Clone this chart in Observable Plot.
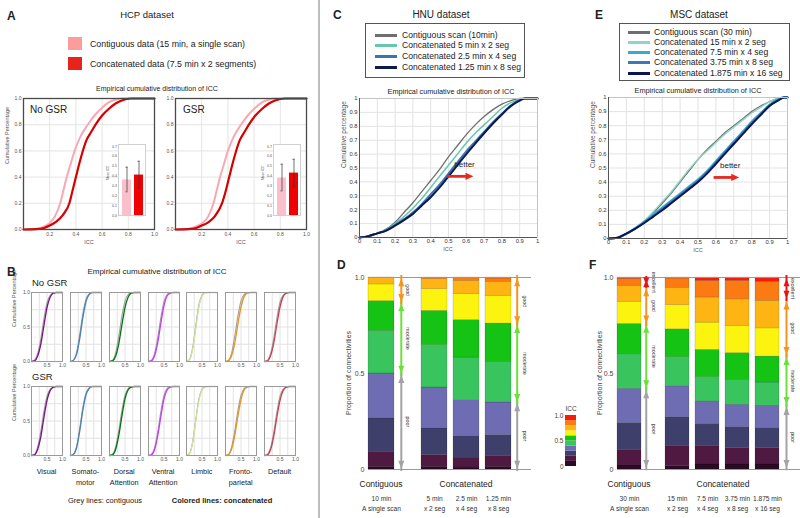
<!DOCTYPE html>
<html><head><meta charset="utf-8">
<script src="https://cdn.jsdelivr.net/npm/d3@7"></script>
<script src="https://cdn.jsdelivr.net/npm/@observablehq/plot@0.6"></script>
<style>
html,body{margin:0;padding:0;background:#fff;}
#fig{position:relative;width:800px;height:518px;overflow:hidden;background:#fff;font-family:"Liberation Sans",Arial,Helvetica,sans-serif;color:#222;}
#fig .t{position:absolute;white-space:nowrap;line-height:1;}
#fig svg{position:absolute;overflow:visible;}
</style></head><body><div id="fig"></div>
<script>
// ======================= DATA =======================
// ---- Panel A : HCP ----
const hcpLegend = ["Contiguous data (15 min, a single scan)", "Concatenated data (7.5 min x 2 segments)"];
const hcpLegendColors = ["#fb9d9b", "#e8231c"];
const hcpCurveColors = ["#f6a9b4", "#d60000"];
const hcpBarColors = ["#f9c0cc", "#f00000"];
const hcpXTicks = [0.2, 0.4, 0.6, 0.8, 1.0];
const hcpYTicks = [0, 0.2, 0.4, 0.6, 0.8, 1.0];
const hcpInsetTicks = [0, 0.1, 0.2, 0.3, 0.4, 0.5, 0.6, 0.7];
const hcpNoGsrContiguous = [[0,0],[0.1,0.005],[0.15,0.02],[0.2,0.05],[0.24,0.1],[0.28,0.2],[0.305,0.3],[0.33,0.4],[0.36,0.5],[0.39,0.6],[0.43,0.7],[0.49,0.8],[0.55,0.88],[0.6,0.93],[0.65,0.97],[0.7,0.99],[0.75,1],[1,1]];
const hcpNoGsrConcatenated = [[0,0],[0.1,0.003],[0.15,0.01],[0.2,0.03],[0.25,0.06],[0.3,0.11],[0.35,0.2],[0.375,0.3],[0.4,0.4],[0.425,0.5],[0.45,0.59],[0.48,0.68],[0.52,0.75],[0.55,0.8],[0.6,0.87],[0.65,0.92],[0.7,0.96],[0.75,0.985],[0.82,1],[1,1]];
const hcpGsrContiguous = [[0,0],[0.1,0.005],[0.15,0.02],[0.2,0.045],[0.25,0.1],[0.29,0.2],[0.315,0.3],[0.34,0.4],[0.37,0.5],[0.4,0.6],[0.44,0.7],[0.5,0.8],[0.56,0.88],[0.61,0.93],[0.66,0.97],[0.71,0.99],[0.77,1],[1,1]];
const hcpGsrConcatenated = [[0,0],[0.1,0.003],[0.15,0.01],[0.2,0.03],[0.25,0.055],[0.3,0.1],[0.355,0.2],[0.385,0.3],[0.41,0.4],[0.435,0.5],[0.46,0.59],[0.49,0.68],[0.53,0.75],[0.56,0.8],[0.61,0.87],[0.66,0.92],[0.71,0.96],[0.76,0.985],[0.84,1],[1,1]];
const hcpNoGsrMean = [0.36, 0.41], hcpNoGsrLow = [0.24, 0.28], hcpNoGsrHigh = [0.49, 0.55];
const hcpGsrMean = [0.38, 0.43], hcpGsrLow = [0.25, 0.29], hcpGsrHigh = [0.52, 0.57];

// ---- Panel B : networks ----
const networks = ["Visual", "Somato-\nmotor", "Dorsal\nAttention", "Ventral\nAttention", "Limbic", "Fronto-\nparietal", "Default"];
const netColors = ["#781286", "#4682b4", "#00760e", "#c43afa", "#cfe49a", "#e69422", "#cd3e4e"];
const netIccGrid = [0, 0.1, 0.2, 0.3, 0.4, 0.5, 0.6, 0.7, 0.8, 0.9, 1.0];
const netXTicks = [0.5, 1.0];
const netYTicks = [0, 0.5, 1.0];
const netGridTicks = [0.25, 0.5, 0.75];
const netGreyNoGsr = [
  [0,0.02,0.12,0.33,0.62,0.85,0.96,0.99,1,1,1],
  [0,0.02,0.14,0.40,0.70,0.90,0.98,1,1,1,1],
  [0,0.02,0.13,0.37,0.66,0.88,0.97,1,1,1,1],
  [0,0.02,0.12,0.35,0.64,0.87,0.97,1,1,1,1],
  [0,0.03,0.20,0.52,0.82,0.96,1,1,1,1,1],
  [0,0.02,0.13,0.37,0.66,0.88,0.97,1,1,1,1],
  [0,0.02,0.12,0.34,0.63,0.86,0.96,0.99,1,1,1]];
const netColNoGsr = [
  [0,0.01,0.08,0.25,0.52,0.78,0.93,0.99,1,1,1],
  [0,0.02,0.11,0.34,0.64,0.87,0.97,1,1,1,1],
  [0,0.01,0.08,0.26,0.53,0.78,0.93,0.99,1,1,1],
  [0,0.01,0.09,0.28,0.56,0.81,0.95,0.99,1,1,1],
  [0,0.03,0.18,0.48,0.79,0.95,0.99,1,1,1,1],
  [0,0.01,0.09,0.27,0.54,0.79,0.94,0.99,1,1,1],
  [0,0.01,0.09,0.27,0.54,0.79,0.94,0.99,1,1,1]];
const netGreyGsr = [
  [0,0.02,0.13,0.35,0.64,0.86,0.96,0.99,1,1,1],
  [0,0.02,0.14,0.40,0.70,0.90,0.98,1,1,1,1],
  [0,0.02,0.13,0.36,0.65,0.87,0.97,1,1,1,1],
  [0,0.02,0.12,0.35,0.64,0.87,0.97,1,1,1,1],
  [0,0.03,0.20,0.52,0.82,0.96,1,1,1,1,1],
  [0,0.02,0.13,0.36,0.65,0.87,0.97,1,1,1,1],
  [0,0.02,0.12,0.34,0.63,0.86,0.96,0.99,1,1,1]];
const netColGsr = [
  [0,0.01,0.09,0.27,0.55,0.80,0.94,0.99,1,1,1],
  [0,0.02,0.12,0.36,0.66,0.88,0.97,1,1,1,1],
  [0,0.01,0.09,0.29,0.57,0.82,0.95,0.99,1,1,1],
  [0,0.01,0.09,0.29,0.57,0.82,0.95,0.99,1,1,1],
  [0,0.03,0.19,0.50,0.80,0.95,0.99,1,1,1,1],
  [0,0.01,0.10,0.29,0.57,0.81,0.95,0.99,1,1,1],
  [0,0.01,0.09,0.28,0.56,0.80,0.94,0.99,1,1,1]];

// ---- Panel C : HNU ----
const hnuSeries = ["Contiguous scan (10min)", "Concatenated 5 min x 2 seg", "Concatenated 2.5 min x 4 seg", "Concatenated 1.25 min x 8 seg"];
const hnuColors = ["#6e6e6e", "#66c7ad", "#3a74b4", "#0c1a4c"];
const hnuWidths = [1.3, 1.5, 2, 2];
const cdfTicks = [0, 0.1, 0.2, 0.3, 0.4, 0.5, 0.6, 0.7, 0.8, 0.9, 1];
const hnuContiguous = [[0,0],[0.05,0.01],[0.1,0.03],[0.15,0.06],[0.2,0.11],[0.25,0.18],[0.3,0.25],[0.35,0.33],[0.4,0.41],[0.45,0.49],[0.5,0.58],[0.55,0.66],[0.6,0.74],[0.65,0.81],[0.7,0.87],[0.75,0.92],[0.8,0.96],[0.85,0.985],[0.9,1],[1,1]];
const hnuConcat5x2 = [[0,0],[0.05,0.01],[0.1,0.03],[0.15,0.055],[0.2,0.1],[0.25,0.15],[0.3,0.21],[0.35,0.28],[0.4,0.36],[0.45,0.44],[0.5,0.52],[0.55,0.6],[0.6,0.68],[0.65,0.75],[0.7,0.81],[0.75,0.87],[0.8,0.93],[0.85,0.97],[0.9,0.995],[0.95,1],[1,1]];
const hnuConcat25x4 = [[0,0],[0.05,0.01],[0.1,0.03],[0.15,0.05],[0.2,0.09],[0.25,0.13],[0.3,0.18],[0.35,0.24],[0.4,0.31],[0.45,0.38],[0.5,0.46],[0.55,0.54],[0.6,0.62],[0.65,0.69],[0.7,0.76],[0.75,0.83],[0.8,0.89],[0.85,0.95],[0.9,0.99],[0.93,1],[1,1]];
const hnuConcat125x8 = [[0,0],[0.05,0.01],[0.1,0.03],[0.15,0.05],[0.2,0.085],[0.25,0.125],[0.3,0.17],[0.35,0.23],[0.4,0.29],[0.45,0.36],[0.5,0.44],[0.55,0.52],[0.6,0.6],[0.65,0.675],[0.7,0.75],[0.75,0.82],[0.8,0.885],[0.85,0.945],[0.9,0.985],[0.93,1],[1,1]];
const hnuBetter = [{label: "better", tx: 0.59, ty: 0.525, ax1: 0.494, ax2: 0.64, ay: 0.44}];

// ---- Panel D : HNU proportions (ICC bins 0-0.1 ... 0.9-1.0) ----
const iccBinEdges = [0, 0.1, 0.2, 0.3, 0.4, 0.5, 0.6, 0.7, 0.8, 0.9, 1.0];
const iccColors = ["#2b0b24", "#4f1942", "#3e3f6b", "#6e6cb2", "#39c45d", "#14c314", "#fcf30e", "#feb514", "#fc7a12", "#f41c0e"];
const iccTicks = [0, 0.5, 1];
const hnuBars = ["10 min\nA single scan", "5 min\nx 2 seg", "2.5 min\nx 4 seg", "1.25 min\nx 8 seg"];
const hnuProps = [
  [0.014, 0.078, 0.174, 0.234, 0.222, 0.155, 0.087, 0.033, 0.003, 0.000],
  [0.014, 0.061, 0.139, 0.213, 0.221, 0.178, 0.113, 0.052, 0.009, 0.000],
  [0.010, 0.047, 0.117, 0.187, 0.222, 0.195, 0.135, 0.070, 0.014, 0.003],
  [0.014, 0.055, 0.110, 0.170, 0.212, 0.199, 0.145, 0.072, 0.018, 0.005]];
const reliabilityLevels = ["poor", "moderate", "good", "excellent"];
const levelColors = ["#a3a3a3", "#6ddf3b", "#f7941d", "#e8141b"];
const hnuContigRanges = [[0.005, 0.491], [0.5, 0.865], [0.873, 0.995]];
const hnuConcatRanges = [[0.005, 0.344], [0.352, 0.752], [0.757, 0.995]];

// ---- Panel E : MSC ----
const mscSeries = ["Contiguous scan (30 min)", "Concatenated 15 min x 2 seg", "Concatenated 7.5 min x 4 seg", "Concatenated 3.75 min x 8 seg", "Concatenated 1.875 min x 16 seg"];
const mscColors = ["#6e6e6e", "#8fd5c6", "#3aaccb", "#3a78b6", "#0b1650"];
const mscWidths = [1.3, 1.4, 1.8, 2, 2];
const mscContiguous = [[0,0],[0.05,0.005],[0.1,0.03],[0.15,0.07],[0.2,0.12],[0.25,0.18],[0.3,0.25],[0.35,0.32],[0.4,0.4],[0.45,0.48],[0.5,0.56],[0.55,0.63],[0.6,0.69],[0.65,0.75],[0.7,0.8],[0.75,0.85],[0.8,0.9],[0.85,0.94],[0.9,0.97],[0.95,0.995],[0.97,1],[1,1]];
const mscConcat15x2 = [[0,0],[0.05,0.005],[0.1,0.035],[0.15,0.075],[0.2,0.125],[0.25,0.19],[0.3,0.26],[0.35,0.33],[0.4,0.41],[0.45,0.49],[0.5,0.56],[0.55,0.62],[0.6,0.68],[0.65,0.74],[0.7,0.79],[0.75,0.84],[0.8,0.89],[0.85,0.93],[0.9,0.97],[0.95,0.995],[0.97,1],[1,1]];
const mscConcat75x4 = [[0,0],[0.05,0.005],[0.1,0.035],[0.15,0.075],[0.2,0.12],[0.25,0.17],[0.3,0.22],[0.35,0.27],[0.4,0.32],[0.45,0.37],[0.5,0.42],[0.55,0.48],[0.6,0.55],[0.65,0.62],[0.7,0.69],[0.75,0.76],[0.8,0.83],[0.85,0.89],[0.9,0.95],[0.95,0.99],[0.98,1],[1,1]];
const mscConcat375x8 = [[0,0],[0.05,0.005],[0.1,0.035],[0.15,0.07],[0.2,0.115],[0.25,0.16],[0.3,0.21],[0.35,0.26],[0.4,0.31],[0.45,0.36],[0.5,0.41],[0.55,0.47],[0.6,0.54],[0.65,0.61],[0.7,0.68],[0.75,0.75],[0.8,0.82],[0.85,0.885],[0.9,0.945],[0.95,0.985],[0.98,1],[1,1]];
const mscConcat1875x16 = [[0,0],[0.05,0.005],[0.1,0.035],[0.15,0.07],[0.2,0.11],[0.25,0.155],[0.3,0.2],[0.35,0.25],[0.4,0.3],[0.45,0.35],[0.5,0.4],[0.55,0.46],[0.6,0.53],[0.65,0.6],[0.7,0.67],[0.75,0.74],[0.8,0.81],[0.85,0.875],[0.9,0.94],[0.95,0.98],[0.98,1],[1,1]];
const mscBetter = [{label: "better", tx: 0.68, ty: 0.52, ax1: 0.59, ax2: 0.73, ay: 0.433}];

// ---- Panel F : MSC proportions ----
const mscBars = ["30 min\nA single scan", "15 min\nx 2 seg", "7.5 min\nx 4 seg", "3.75 min\nx 8 seg", "1.875 min\nx 16 seg"];
const mscProps = [
  [0.021, 0.079, 0.142, 0.178, 0.180, 0.158, 0.116, 0.083, 0.036, 0.007],
  [0.017, 0.104, 0.151, 0.161, 0.152, 0.145, 0.126, 0.090, 0.049, 0.005],
  [0.026, 0.095, 0.113, 0.121, 0.126, 0.142, 0.142, 0.131, 0.087, 0.017],
  [0.026, 0.086, 0.108, 0.117, 0.130, 0.139, 0.141, 0.139, 0.097, 0.017],
  [0.026, 0.086, 0.104, 0.116, 0.121, 0.135, 0.147, 0.144, 0.099, 0.022]];
const mscContigRanges = [[0.009, 0.412], [0.424, 0.753], [0.761, 0.943], [0.96, 0.99]];
const mscConcatRanges = [[0.009, 0.325], [0.337, 0.585], [0.597, 0.874], [0.891, 0.995]];

// ======================= HELPERS =======================
const fig = document.getElementById("fig");
const FONT = "'Liberation Sans', Arial, Helvetica, sans-serif";
const sty = (size, color) => `font-family:${FONT};font-size:${size}px;color:${color || "#444"};background:transparent;overflow:visible;`;
function txt(x, y, s, o = {}) {
  const d = document.createElement("div");
  d.className = "t";
  d.textContent = s;
  d.style.left = x + "px"; d.style.top = y + "px";
  d.style.fontSize = (o.size || 8) + "px";
  d.style.fontWeight = o.bold ? "bold" : "normal";
  d.style.color = o.color || "#222";
  if (o.lh) { d.style.lineHeight = o.lh + "px"; d.style.whiteSpace = "pre"; d.style.textAlign = "center"; }
  const tx = o.anchor === "start" ? "0" : o.anchor === "end" ? "-100%" : "-50%";
  const ty = o.valign === "top" ? "0" : "-50%";
  d.style.transform = `translate(${tx},${ty})` + (o.rotate ? ` rotate(${o.rotate}deg)` : "");
  fig.appendChild(d);
}
function box(x, y, w, h, css) {
  const d = document.createElement("div");
  d.style.cssText = `position:absolute;left:${x}px;top:${y}px;width:${w}px;height:${h}px;box-sizing:border-box;` + css;
  fig.appendChild(d);
}
function place(svg, left, top) { svg.style.left = left + "px"; svg.style.top = top + "px"; fig.appendChild(svg); }
const fmt1 = d => d.toFixed(1);
// arrow-head symbols with the tip at the data point
const headUp = {draw(ctx, size) { const r = Math.sqrt(size / Math.PI); ctx.moveTo(0, 0); ctx.lineTo(-r, 2.6 * r); ctx.lineTo(r, 2.6 * r); ctx.closePath(); }};
const headDown = {draw(ctx, size) { const r = Math.sqrt(size / Math.PI); ctx.moveTo(0, 0); ctx.lineTo(-r, -2.6 * r); ctx.lineTo(r, -2.6 * r); ctx.closePath(); }};
const headRight = {draw(ctx, size) { const r = Math.sqrt(size / Math.PI); ctx.moveTo(0, 0); ctx.lineTo(-2.2 * r, -r); ctx.lineTo(-2.2 * r, r); ctx.closePath(); }};

// ======================= PANEL A =======================
function hcpMain(contig, concat, yLabel) {
  const mL = 20, mR = 3, mT = 5, mB = 16, W = 131, H = 131;
  return Plot.plot({
    width: mL + W + mR, height: mT + H + mB, marginLeft: mL, marginRight: mR, marginTop: mT, marginBottom: mB,
    style: sty(5, "#555"),
    x: {domain: [0, 1], ticks: hcpXTicks, tickFormat: fmt1, tickSize: 0, tickPadding: 3, label: null},
    y: {domain: [0, 1], ticks: hcpYTicks, tickFormat: fmt1, tickSize: 0, tickPadding: 2, label: null},
    marks: [
      Plot.ruleX(hcpXTicks, {stroke: "#e4e4e4"}),
      Plot.ruleY(hcpYTicks, {stroke: "#e4e4e4"}),
      Plot.line(contig, {x: d => d[0], y: d => d[1], stroke: hcpCurveColors[0], strokeWidth: 2, curve: "monotone-x"}),
      Plot.line(concat, {x: d => d[0], y: d => d[1], stroke: hcpCurveColors[1], strokeWidth: 2.2, curve: "monotone-x"}),
      Plot.frame({stroke: "#4a4a4a", strokeWidth: 1.3}),
      yLabel ? Plot.text([yLabel], {text: d => d, frameAnchor: "left", rotate: -90, dx: -16, fontSize: 5.5, fill: "#555"}) : null
    ].filter(Boolean)
  });
}
function hcpInset(mean, lo, hi) {
  const mL = 13, W = 27, mT = 2, mB = 2, H = 71;
  const rows = hcpLegend.map((g, i) => ({g, mean: mean[i], lo: lo[i], hi: hi[i], c: hcpBarColors[i]}));
  return Plot.plot({
    width: mL + W + 1, height: mT + H + mB, marginLeft: mL, marginRight: 1, marginTop: mT, marginBottom: mB,
    style: sty(3.6, "#555"),
    x: {type: "band", domain: hcpLegend, range: [mL + 3, mL + 26], paddingInner: 0.23, paddingOuter: 0, axis: null},
    y: {domain: [0, 0.72], ticks: hcpInsetTicks, tickFormat: fmt1, tickSize: 0, tickPadding: 1.5, label: null},
    marks: [
      Plot.frame({fill: "white", stroke: "#d0d0d0"}),
      Plot.barY(rows, {x: "g", y: "mean", fill: "c"}),
      Plot.ruleX(rows, {x: "g", y1: "lo", y2: "hi", stroke: "#333", strokeWidth: 0.7}),
      Plot.tickY(rows, {x: "g", y: "lo", stroke: "#333", strokeWidth: 0.7, insetLeft: 3.5, insetRight: 3.5}),
      Plot.tickY(rows, {x: "g", y: "hi", stroke: "#333", strokeWidth: 0.7, insetLeft: 3.5, insetRight: 3.5}),
      Plot.text(["Mean ICC"], {text: d => d, frameAnchor: "left", rotate: -90, dx: -10.5, fontSize: 3.2, fill: "#555"})
    ]
  });
}
place(hcpMain(hcpNoGsrContiguous, hcpNoGsrConcatenated, "Cumulative Percentage"), 3, 93);
place(hcpMain(hcpGsrContiguous, hcpGsrConcatenated, null), 155, 93);
place(hcpInset(hcpNoGsrMean, hcpNoGsrLow, hcpNoGsrHigh), 105, 142);
place(hcpInset(hcpGsrMean, hcpGsrLow, hcpGsrHigh), 260, 142);

txt(7, 16, "A", {anchor: "start", bold: true, size: 12});
txt(147, 15, "HCP dataset", {size: 9.5});
hcpLegend.forEach((s, i) => {
  box(68, 37 + i * 20, 14, 13, `background:${hcpLegendColors[i]};`);
  txt(90, 44 + i * 20, s, {anchor: "start", size: 8.8});
});
txt(157, 88, "Empirical cumulative distribution of ICC", {size: 7});
txt(30, 110, "No GSR", {anchor: "start", size: 10});
txt(183, 110, "GSR", {anchor: "start", size: 10});
txt(89, 243, "ICC", {size: 5.5, color: "#555"});
txt(241, 243, "ICC", {size: 5.5, color: "#555"});

// ======================= PANEL B =======================
function netPlot(grey, col, color, showY) {
  const mL = 24, mR = 6, mT = 2, mB = 10, W = 31, H = 69;
  return Plot.plot({
    width: mL + W + mR, height: mT + H + mB, marginLeft: mL, marginRight: mR, marginTop: mT, marginBottom: mB,
    style: sty(5, "#555"),
    x: {domain: [0, 1], ticks: netXTicks, tickFormat: fmt1, tickSize: 0, tickPadding: 1.5, label: null},
    y: showY ? {domain: [0, 1], ticks: netYTicks, tickFormat: fmt1, tickSize: 0, tickPadding: 1.5, label: null} : {domain: [0, 1], axis: null},
    marks: [
      Plot.ruleX(netGridTicks, {stroke: "#e2e2e2"}),
      Plot.ruleY(netGridTicks, {stroke: "#e2e2e2"}),
      Plot.line(netIccGrid, {x: d => d, y: (d, i) => grey[i], stroke: "#a0a0a0", strokeWidth: 1.1, curve: "monotone-x"}),
      Plot.line(netIccGrid, {x: d => d, y: (d, i) => col[i], stroke: color, strokeWidth: 1.3, curve: "monotone-x"}),
      Plot.frame({stroke: "#9a9a9a"}),
      showY ? Plot.text(["Cumulative Percentage"], {text: d => d, frameAnchor: "left", rotate: -90, dx: -17, fontSize: 5.5, fill: "#555"}) : null
    ].filter(Boolean)
  });
}
const colStep = 38.85, col0 = 31, rowTops = [292, 386];
networks.forEach((name, i) => {
  place(netPlot(netGreyNoGsr[i], netColNoGsr[i], netColors[i], i === 0), col0 + i * colStep - 24, rowTops[0] - 2);
  place(netPlot(netGreyGsr[i], netColGsr[i], netColors[i], i === 0), col0 + i * colStep - 24, rowTops[1] - 2);
  txt(col0 + i * colStep + 15.5, 466, name, {valign: "top", size: 7.3, lh: 11});
});
txt(7, 272, "B", {anchor: "start", bold: true, size: 12});
txt(157, 272, "Empirical cumulative distribution of ICC", {size: 8});
txt(32, 283, "No GSR", {anchor: "start", size: 9.5});
txt(32, 377, "GSR", {anchor: "start", size: 9.5});
txt(105, 501, "Grey lines: contiguous", {size: 7.5});
txt(222, 501, "Colored lines: concatenated", {size: 7.5, bold: true});

// ======================= PANELS C & E =======================
function cdfPlot(series, colors, widths, better, W, H, yLabel) {
  const mL = 22, mR = 8, mT = 6, mB = 16;
  return Plot.plot({
    width: mL + W + mR, height: mT + H + mB, marginLeft: mL, marginRight: mR, marginTop: mT, marginBottom: mB,
    style: sty(5.8, "#333"),
    x: {domain: [0, 1], ticks: cdfTicks, tickFormat: d => String(d), tickSize: 0, tickPadding: 1.5, label: null},
    y: {domain: [0, 1], ticks: cdfTicks, tickFormat: d => String(d), tickSize: 0, tickPadding: 2, label: null},
    marks: [
      Plot.ruleX(cdfTicks, {stroke: "#e3e3e3"}),
      Plot.ruleY(cdfTicks, {stroke: "#e3e3e3"}),
      ...series.map((s, i) => Plot.line(s, {x: d => d[0], y: d => d[1], stroke: colors[i], strokeWidth: widths[i], curve: "monotone-x"})),
      Plot.frame({stroke: "#c4c4c4"}),
      Plot.ruleX([0], {stroke: "#555"}),
      Plot.ruleY([0], {stroke: "#555"}),
      Plot.ruleY(better, {y: "ay", x1: "ax1", x2: "ax2", stroke: "#e8281e", strokeWidth: 2.8, insetRight: 6}),
      Plot.dot(better, {x: "ax2", y: "ay", symbol: headRight, r: 3.6, fill: "#e8281e", stroke: null}),
      Plot.text(better, {x: "tx", y: "ty", text: "label", fontSize: 8, fill: "#222"}),
      Plot.text([yLabel], {text: d => d, frameAnchor: "left", rotate: -90, dx: -16, fontSize: 6.5, fill: "#555"})
    ]
  });
}
place(cdfPlot([hnuContiguous, hnuConcat5x2, hnuConcat25x4, hnuConcat125x8], hnuColors, hnuWidths, hnuBetter, 178, 139, "Cumulative percentage"), 337, 92);
place(cdfPlot([mscContiguous, mscConcat15x2, mscConcat75x4, mscConcat375x8, mscConcat1875x16], mscColors, mscWidths, mscBetter, 179, 141, "Cumulative percentage"), 586, 91);

function legendBox(x, y, w, h, names, colors, rowY, lineX, textX) {
  box(x, y, w, h, "border:1px solid #555;background:#fff;");
  names.forEach((s, i) => {
    box(lineX, rowY[i] - 1.5, 22, 3, `background:${colors[i]};`);
    txt(textX, rowY[i], s, {anchor: "start", size: 8.6});
  });
}
txt(333, 15, "C", {anchor: "start", bold: true, size: 12});
txt(441, 15, "HNU dataset", {size: 10});
legendBox(365, 23, 160, 55, hnuSeries, hnuColors, [35, 45, 56, 67], 375, 402);
txt(451, 92, "Empirical cumulative distribution of ICC", {size: 7.3});
txt(448, 250, "ICC", {size: 5.5, color: "#555"});

txt(595, 15, "E", {anchor: "start", bold: true, size: 12});
txt(699, 15, "MSC dataset", {size: 10});
legendBox(619, 23, 171, 58, mscSeries, mscColors, [32, 42, 52, 62, 73], 628, 654);
txt(698, 91, "Empirical cumulative distribution of ICC", {size: 7.3});
txt(698, 251, "ICC", {size: 5.5, color: "#555"});

// ======================= PANELS D & F =======================
function reliabilityPlot(o) {
  const mL = o.frameLeft - o.svgLeft, W = o.frameRight - o.frameLeft, mT = 8, H = 192, mB = 45;
  const rows = [];
  o.cats.forEach((c, i) => o.props[i].forEach((v, b) => rows.push({cat: c, bin: b, v})));
  const n = o.cats.length;
  const p = n === 1 ? 0 : 1 - o.bw / o.step;
  const r0 = o.bandStart - o.svgLeft;
  const r1 = n === 1 ? r0 + o.bw : r0 + o.step * (n - p);
  const arr = o.ranges.map((r, i) => ({level: reliabilityLevels[i], lo: r[0], hi: r[1], color: levelColors[i], cat: o.arrowCat}));
  return Plot.plot({
    width: mL + W, height: mT + H + mB, marginLeft: mL, marginRight: 0, marginTop: mT, marginBottom: mB,
    style: sty(7, "#444"),
    x: {type: "band", domain: o.cats, range: [r0, r1], paddingInner: p, paddingOuter: 0, align: 0, axis: null},
    y: o.showY ? {domain: [0, 1], ticks: iccTicks, tickFormat: d => d === 0 ? "0" : d.toFixed(1), tickSize: 0, tickPadding: 4, label: null} : {domain: [0, 1], axis: null},
    marks: [
      Plot.barY(rows, {x: "cat", y: "v", fill: d => iccColors[d.bin], stroke: "#000", strokeOpacity: 0.25, strokeWidth: 0.5}),
      Plot.ruleY([0, 1], {stroke: "#999", strokeWidth: 1}),
      Plot.ruleX(arr, {x: "cat", y1: "lo", y2: "hi", stroke: "color", strokeWidth: 2, dx: o.arrowDx, insetTop: 3, insetBottom: 3}),
      Plot.dot(arr, {x: "cat", y: "hi", symbol: headUp, r: 3, fill: "color", stroke: null, dx: o.arrowDx}),
      Plot.dot(arr, {x: "cat", y: "lo", symbol: headDown, r: 3, fill: "color", stroke: null, dx: o.arrowDx}),
      Plot.text(arr, {x: "cat", y: d => (d.lo + d.hi) / 2, text: "level", rotate: 90, fontSize: 5.3, fill: "#333", dx: o.textDx}),
      Plot.text(o.cats, {x: d => d, y: () => 0, text: d => d, dy: 33, fontSize: 6.6, lineHeight: 1.5, fill: "#333"})
    ]
  });
}
place(reliabilityPlot({cats: hnuBars.slice(0, 1), props: hnuProps.slice(0, 1), svgLeft: 338, frameLeft: 368, frameRight: 420, bandStart: 368, bw: 26.4, step: 26.4, showY: true, ranges: hnuContigRanges, arrowCat: hnuBars[0], arrowDx: 19.8, textDx: 25.8}), 338, 269);
place(reliabilityPlot({cats: hnuBars.slice(1), props: hnuProps.slice(1), svgLeft: 420, frameLeft: 420, frameRight: 531, bandStart: 421, bw: 26.6, step: 32.5, showY: false, ranges: hnuConcatRanges, arrowCat: hnuBars[3], arrowDx: 18.7, textDx: 26.7}), 420, 269);
place(reliabilityPlot({cats: mscBars.slice(0, 1), props: mscProps.slice(0, 1), svgLeft: 587, frameLeft: 617, frameRight: 664, bandStart: 617, bw: 24.5, step: 24.5, showY: true, ranges: mscContigRanges, arrowCat: mscBars[0], arrowDx: 16.75, textDx: 23.75}), 587, 269);
place(reliabilityPlot({cats: mscBars.slice(1), props: mscProps.slice(1), svgLeft: 664, frameLeft: 664, frameRight: 800, bandStart: 665, bw: 24.3, step: 30.3, showY: false, ranges: mscConcatRanges, arrowCat: mscBars[4], arrowDx: 19, textDx: 25}), 664, 269);

txt(337, 265, "D", {anchor: "start", bold: true, size: 12});
txt(348, 373, "Proportion of connectivities", {size: 7, rotate: -90, color: "#444"});
txt(381, 484, "Contiguous", {size: 8.5});
txt(466, 484, "Concatenated", {size: 8.5});
txt(589, 265, "F", {anchor: "start", bold: true, size: 12});
txt(599, 373, "Proportion of connectivities", {size: 7, rotate: -90, color: "#444"});
txt(629, 484, "Contiguous", {size: 8.5});
txt(723, 484, "Concatenated", {size: 8.5});

// ICC colour bar
(function () {
  const bins = iccColors.map((c, i) => ({lo: iccBinEdges[i], hi: iccBinEdges[i + 1], c}));
  const svg = Plot.plot({
    width: 16 + 11 + 2, height: 2 + 51 + 3, marginLeft: 16, marginRight: 2, marginTop: 2, marginBottom: 3,
    style: sty(6.5, "#444"),
    x: {axis: null},
    y: {domain: [0, 1], ticks: iccTicks, tickFormat: d => d === 0 ? "0" : d.toFixed(1), tickSize: 0, tickPadding: 2, label: null},
    marks: [Plot.barY(bins, {y1: "lo", y2: "hi", fill: "c"})]
  });
  place(svg, 549, 413);
  txt(571, 409, "ICC", {size: 6.5, color: "#444"});
})();

// divider
box(318, 0, 1.5, 518, "background:#bdbdbd;");
</script></body></html>
